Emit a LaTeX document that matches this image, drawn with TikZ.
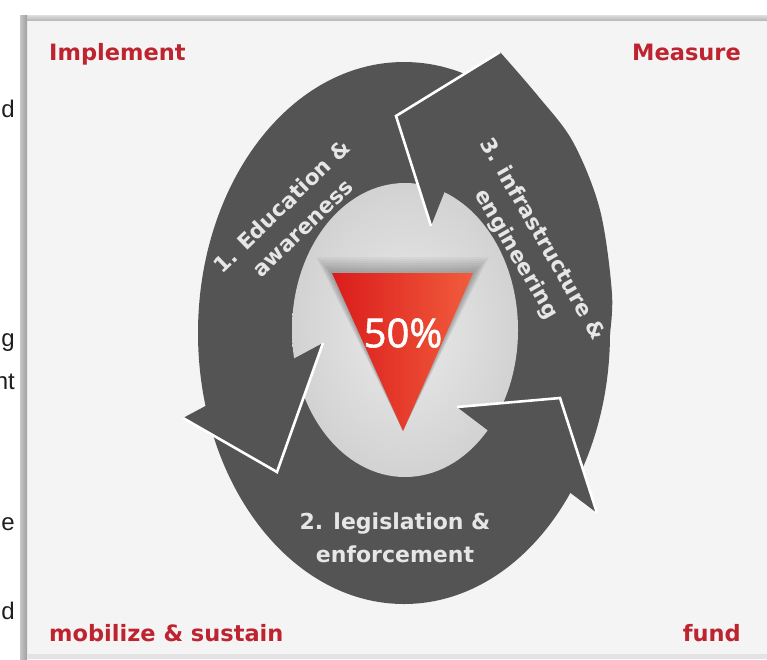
\documentclass[tikz,border=0pt]{standalone}
\usepackage{fontspec}
\setmainfont{DejaVu Sans}
\newfontfamily\pctfont{Open Sans}[FakeBold=1.5]
\newfontfamily\cutfont{Liberation Sans}
\definecolor{ringgray}{HTML}{545454}
\definecolor{innerlight}{HTML}{EAEAEA}
\definecolor{innerdark}{HTML}{D2D2D2}
\definecolor{panelbg}{HTML}{F4F4F4}
\definecolor{labelred}{HTML}{BE2430}
\definecolor{ringtext}{HTML}{E6E6E6}
\definecolor{tridark}{HTML}{DA1C1C}
\definecolor{trilight}{HTML}{F25C3C}
\definecolor{cuttext}{HTML}{1E1E1E}
\begin{document}
\begin{tikzpicture}[x=1pt,y=-1pt,
  corner/.style={font=\bfseries\fontsize{22.5}{27}\selectfont, text=labelred, inner sep=0pt},
  ringlabel/.style={font=\bfseries\fontsize{21.5}{30}\selectfont, text=ringtext, align=center, inner sep=0pt},
  cutword/.style={font=\cutfont\fontsize{24}{28}\selectfont, text=cuttext, inner sep=0pt, anchor=base east},
  headfill/.style={fill=ringgray},
  headedge/.style={draw=white, line width=2.6pt, line join=miter}]
\useasboundingbox (0,0) rectangle (767,659);
\fill[white] (0,0) rectangle (767,659);
% panel and frame
\fill[panelbg] (27,20) rectangle (767,655);
\shade[top color=gray!25, bottom color=gray!55] (20,15) rectangle (767,20);
\shade[left color=gray!45, right color=gray!75] (20,15) rectangle (27,659);
\fill[gray!22] (27,654) rectangle (767,659);
% cut-off words at the left
\node[cutword] (w1) at (15,117) {d};
\node[cutword] (w2) at (15,346) {g};
\node[cutword] (w3) at (15,389) {nt};
\node[cutword] (w4) at (15,530) {e};
\node[cutword] (w5) at (15,619) {d};
% ring
\coordinate (O1) at (183,418); \coordinate (T1) at (277,472); \coordinate (I1) at (323,343);
\coordinate (I2) at (457,407); \coordinate (T2) at (560,398); \coordinate (O2) at (597,513);
\coordinate (O3) at (500,52);  \coordinate (T3) at (396,116); \coordinate (I3) at (431,226);
\fill[ringgray] (404,333) ellipse [x radius=206, y radius=271];
\fill[ringgray] (404,333) -- (T3) -- plot[smooth, tension=0.55] coordinates {(500,52) (538,96) (573,142) (600,210) (612,294) (609,340)} -- cycle;
\shade[inner color=innerlight, outer color=innerdark] (405,330) ellipse [x radius=113, y radius=147];
% arrow heads
\fill[headfill] (O1) -- (T1) -- (I1) -- cycle;
\draw[headedge] (O1) -- (T1) -- (I1);
\fill[headfill] (I2) -- (T2) -- (O2) -- cycle;
\draw[headedge] (I2) -- (T2) -- (O2);
\fill[headfill] (O3) -- (T3) -- (I3) -- cycle;
\draw[headedge] (O3) -- (T3) -- (I3);
% triangle with shadow
\foreach \d in {2,4,...,16}
  \fill[black,opacity=0.035] (332-\d,273-\d) -- (473+\d,273-\d) -- (403,431) -- cycle;
\shade[left color=tridark, right color=trilight] (332,273) -- (473,273) -- (403,431) -- cycle;
\node[font=\pctfont\fontsize{40}{44}\selectfont, text=white, inner sep=0pt] (pct) at (403,333) {50\%};
% ring labels
\node[ringlabel, rotate=44] (edu) at (292,217) {1. Education \&\\awareness};
\node[ringlabel, rotate=-60] (infra) at (529,247) {3. infrastructure \&\\engineering};
\node[ringlabel, font=\bfseries\fontsize{22}{33}\selectfont] (legis) at (395,538) {2. legislation \&\\enforcement};
% corner labels
\node[corner, anchor=base west] (impl) at (49,60) {Implement};
\node[corner, anchor=base east] (meas) at (741,60) {Measure};
\node[corner, anchor=base west] (mobi) at (49,641) {mobilize \& sustain};
\node[corner, anchor=base east] (fund) at (741,641) {fund};
\end{tikzpicture}
\end{document}
